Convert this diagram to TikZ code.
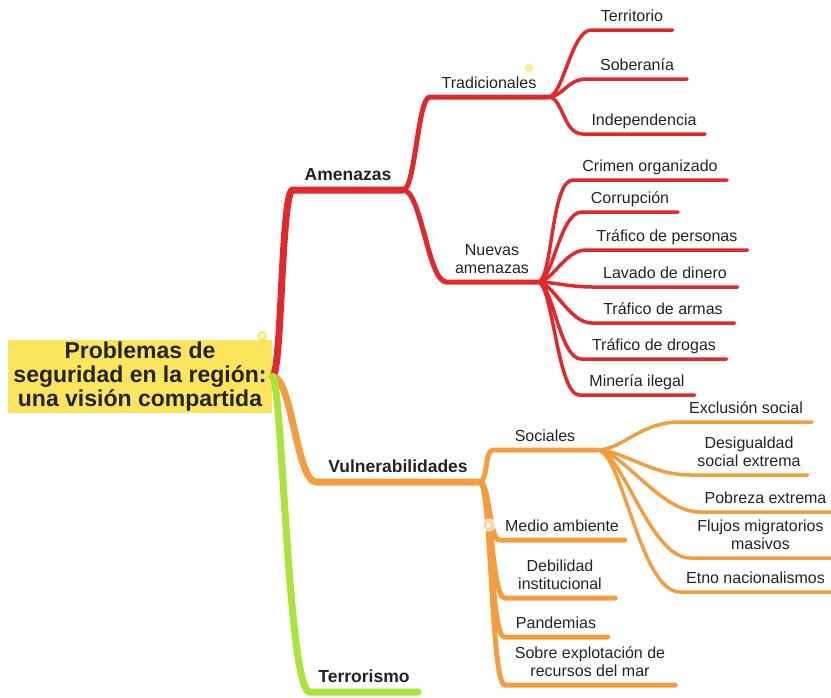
\documentclass[tikz,border=0pt]{standalone}
\usepackage{fontspec}
\setmainfont{Liberation Sans}
\definecolor{mapred}{RGB}{226,40,42}
\definecolor{maporange}{RGB}{244,157,62}
\definecolor{mapgreen}{RGB}{168,228,60}
\definecolor{mapyellow}{RGB}{251,229,92}
\definecolor{maptext}{RGB}{35,35,35}
\begin{document}
\begin{tikzpicture}[x=1pt,y=-1pt,
  topic/.style={anchor=south, inner xsep=0pt, inner ysep=4pt, text depth=4pt, align=center, text=maptext, font=\fontsize{16}{18}\selectfont},
  main/.style={topic, inner ysep=5.5pt, font=\fontsize{17.5}{20}\selectfont\bfseries},
  red/.style={draw=mapred, line cap=round, line width=#1},
  orange/.style={draw=maporange, line cap=round, line width=#1},
  green/.style={draw=mapgreen, line cap=round, line width=#1}]
\useasboundingbox (0,0) rectangle (831,697);
% central topic
\node[fill=mapyellow, minimum width=264pt, minimum height=73pt, inner sep=0pt, align=center, text=maptext, font=\fontsize{23}{24}\selectfont\bfseries] (root) at (140,376.5) {Problemas de\\seguridad en la región:\\una visión compartida};
\node[circle, draw=mapyellow!80!orange, fill=mapyellow!40, line width=1pt, inner sep=0pt, minimum size=8pt] (rdot) at (262,336) {};
% main topics
\node[main, minimum width=110pt] (amz) at (348,190) {Amenazas};
\node[main, minimum width=163pt] (vul) at (398,482) {Vulnerabilidades};
\node[main, minimum width=108pt] (ter) at (364,692) {Terrorismo};
% amenazas
\node[topic, minimum width=118pt] (trd) at (489,97) {Tradicionales};
\node[circle, fill=mapyellow!70, inner sep=0pt, minimum size=9pt] (tdot) at (529,68) {};
\node[topic, minimum width=91pt] (nva) at (492,282) {Nuevas\\amenazas};
\node[topic, minimum width=81pt] (terr) at (632,30) {Territorio};
\node[topic, minimum width=100pt] (sobe) at (637,79) {Soberanía};
\node[topic, minimum width=122pt] (inde) at (644,134) {Independencia};
\node[topic, minimum width=154pt] (crim) at (650,180) {Crimen organizado};
\node[topic, minimum width=96pt] (corr) at (630,212) {Corrupción};
\node[topic, minimum width=161pt] (tper) at (667,250) {Tráfico de personas};
\node[topic, minimum width=145pt] (lava) at (665,287) {Lavado de dinero};
\node[topic, minimum width=143pt] (tarm) at (663,323) {Tráfico de armas};
\node[topic, minimum width=145pt] (tdro) at (654,359) {Tráfico de drogas};
\node[topic, minimum width=115pt] (mine) at (637,395) {Minería ilegal};
% vulnerabilidades
\node[topic, minimum width=104pt] (soc) at (545,450) {Sociales};
\node[topic, minimum width=125pt] (med) at (562,540) {Medio ambiente};
\node[topic, minimum width=110pt] (deb) at (560,598) {Debilidad\\institucional};
\node[topic, minimum width=103pt] (pan) at (556,637) {Pandemias};
\node[topic, minimum width=170pt] (sob) at (590,685) {Sobre explotación de\\recursos del mar};
\node[topic, minimum width=132pt] (excl) at (746,422) {Exclusión social};
\node[topic, minimum width=117pt] (desi) at (749,475) {Desigualdad\\social extrema};
\node[topic, minimum width=131pt] (pobr) at (765.5,512) {Pobreza extrema};
\node[topic, minimum width=141pt] (fluj) at (760.5,558) {Flujos migratorios\\masivos};
\node[topic, minimum width=151pt] (etno) at (755.5,592) {Etno nacionalismos};
% connectors
\draw[red=7pt] (root.east) .. controls +(10,0) and +(-12,0) .. (amz.south west) -- (amz.south east);
\draw[red=5pt] (amz.south east) .. controls +(12,0) and +(-12,0) .. (trd.south west) -- (trd.south east);
\draw[red=5pt] (amz.south east) .. controls +(18,0) and +(-18,0) .. (nva.south west) -- (nva.south east);
\draw[red=3.5pt] (trd.south east) .. controls +(15,0) and +(-20,0) .. (terr.south west) -- (terr.south east);
\draw[red=3.5pt] (trd.south east) .. controls +(15,0) and +(-20,0) .. (sobe.south west) -- (sobe.south east);
\draw[red=3.5pt] (trd.south east) .. controls +(15,0) and +(-20,0) .. (inde.south west) -- (inde.south east);
\draw[red=3.5pt] (nva.south east) .. controls +(15,0) and +(-22,0) .. (crim.south west) -- (crim.south east);
\draw[red=3.5pt] (nva.south east) .. controls +(15,0) and +(-22,0) .. (corr.south west) -- (corr.south east);
\draw[red=3.5pt] (nva.south east) .. controls +(15,0) and +(-22,0) .. (tper.south west) -- (tper.south east);
\draw[red=3.5pt] (nva.south east) .. controls +(15,0) and +(-22,0) .. (lava.south west) -- (lava.south east);
\draw[red=3.5pt] (nva.south east) .. controls +(15,0) and +(-22,0) .. (tarm.south west) -- (tarm.south east);
\draw[red=3.5pt] (nva.south east) .. controls +(15,0) and +(-22,0) .. (tdro.south west) -- (tdro.south east);
\draw[red=3.5pt] (nva.south east) .. controls +(15,0) and +(-22,0) .. (mine.south west) -- (mine.south east);
\draw[orange=7pt] (root.east) .. controls +(20,0) and +(-20,0) .. (vul.south west) -- (vul.south east);
\draw[orange=5pt] (vul.south east) .. controls +(8,0) and +(-8,0) .. (soc.south west) -- (soc.south east);
\draw[orange=5pt] (vul.south east) .. controls +(10,0) and +(-10,0) .. (med.south west) -- (med.south east);
\draw[orange=5pt] (vul.south east) .. controls +(12,0) and +(-14,0) .. (deb.south west) -- (deb.south east);
\draw[orange=5pt] (vul.south east) .. controls +(12,0) and +(-14,0) .. (pan.south west) -- (pan.south east);
\draw[orange=5pt] (vul.south east) .. controls +(12,0) and +(-14,0) .. (sob.south west) -- (sob.south east);
\draw[orange=3.5pt] (soc.south east) .. controls +(25,0) and +(-40,0) .. (excl.south west) -- (excl.south east);
\draw[orange=3.5pt] (soc.south east) .. controls +(25,0) and +(-40,0) .. (desi.south west) -- (desi.south east);
\draw[orange=3.5pt] (soc.south east) .. controls +(25,0) and +(-40,0) .. (pobr.south west) -- (pobr.south east);
\draw[orange=3.5pt] (soc.south east) .. controls +(25,0) and +(-40,0) .. (fluj.south west) -- (fluj.south east);
\draw[orange=3.5pt] (soc.south east) .. controls +(25,0) and +(-40,0) .. (etno.south west) -- (etno.south east);
\draw[green=7pt] (root.east) .. controls +(10,0) and +(-22,0) .. (ter.south west) -- (ter.south east);
% collapse icon on medio ambiente
\node[circle, fill=maporange!45, draw=white, line width=0.8pt, inner sep=0pt, minimum size=12pt] (mdot) at (489,525) {};
\fill[white] ([xshift=-2pt,yshift=3pt]mdot.center) -- ([xshift=3pt]mdot.center) -- ([xshift=-2pt,yshift=-3pt]mdot.center) -- cycle;
\end{tikzpicture}
\end{document}
